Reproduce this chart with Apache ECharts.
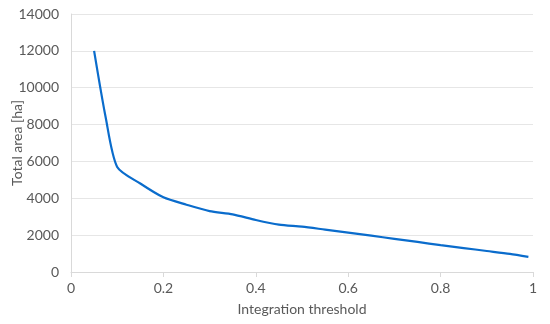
<!DOCTYPE html>
<html><head><meta charset="utf-8">
<script src="https://cdn.jsdelivr.net/npm/echarts@6/dist/echarts.min.js"></script>
<style>html,body{margin:0;padding:0;background:#fff}#c{width:550px;height:324px}</style>
</head><body><div id="c"></div>
<script>
var thresholds = [0.05, 0.075, 0.1, 0.15, 0.2, 0.25, 0.3, 0.35, 0.4, 0.45, 0.5, 0.55, 0.6, 0.65, 0.7, 0.75, 0.8, 0.85, 0.9, 0.95, 0.99];
var totalArea = [12000, 8400, 5700, 4800, 4050, 3650, 3300, 3130, 2820, 2570, 2460, 2300, 2140, 1970, 1800, 1630, 1460, 1300, 1140, 980, 820];
var xTicks = [0, 0.2, 0.4, 0.6, 0.8, 1];
var yTicks = [0, 2000, 4000, 6000, 8000, 10000, 12000, 14000];

var data = thresholds.map(function(x, i){ return [x, totalArea[i]]; });
var chart = echarts.init(document.getElementById('c'));
var font = 'Lato, "Liberation Sans", sans-serif';
chart.setOption({
  animation: false,
  grid: {left: 71, right: 17, top: 14, bottom: 52, containLabel: false, outerBoundsMode: 'none'},
  xAxis: {
    type: 'value', min: xTicks[0], max: xTicks[xTicks.length-1], interval: 0.2,
    name: 'Integration threshold', nameLocation: 'middle', nameGap: 30, nameMoveOverlap: false,
    nameTextStyle: {color: '#595959', fontSize: 14, fontFamily: font},
    axisLine: {show: true, lineStyle: {color: '#d9d9d9', width: 1}},
    axisTick: {show: true, length: 5, lineStyle: {color: '#d9d9d9'}},
    axisLabel: {color: '#595959', fontSize: 14, fontFamily: font, margin: 9,
      formatter: function(v){ return String(Math.round(v*10)/10); }},
    splitLine: {show: false}
  },
  yAxis: {
    type: 'value', min: yTicks[0], max: yTicks[yTicks.length-1], interval: 2000,
    name: 'Total area [ha]', nameLocation: 'middle', nameGap: 47, nameMoveOverlap: false,
    nameTextStyle: {color: '#595959', fontSize: 14, fontFamily: font},
    axisLine: {show: true, lineStyle: {color: '#d9d9d9', width: 1}},
    axisTick: {show: false},
    axisLabel: {color: '#595959', fontSize: 14, fontFamily: font, margin: 12,
      formatter: function(v){ return String(v); }},
    splitLine: {show: true, lineStyle: {color: '#e6e6e6', width: 1}}
  },
  series: [{
    type: 'line', data: data, smooth: 0.25, showSymbol: false,
    lineStyle: {color: '#0a6ccc', width: 2.2}
  }]
});
</script></body></html>
